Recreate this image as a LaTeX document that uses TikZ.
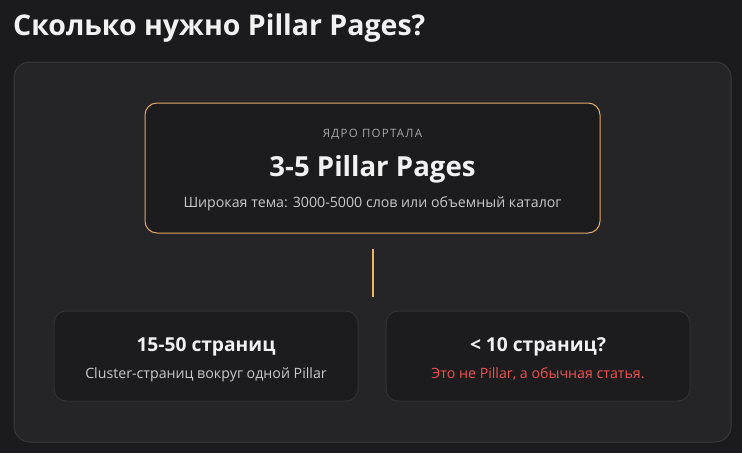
\documentclass[tikz,border=0pt]{standalone}
\usepackage{fontspec}
\setmainfont{Open Sans}
\newfontfamily\spacedfont[LetterSpace=11]{Open Sans}
\usetikzlibrary{positioning}

\definecolor{pagebg}{HTML}{1B1B1D}
\definecolor{panelbg}{HTML}{252527}
\definecolor{panelline}{HTML}{3A3A3C}
\definecolor{cardbg}{HTML}{1C1C1E}
\definecolor{cardline}{HTML}{323234}
\definecolor{accent}{HTML}{E2A862}
\definecolor{stemcol}{HTML}{F2B463}
\definecolor{txtwhite}{HTML}{F2F2F2}
\definecolor{txtgray}{HTML}{A9A9AB}
\definecolor{txtlight}{HTML}{C9C9CB}
\definecolor{txtred}{HTML}{F0504F}

\begin{document}
\begin{tikzpicture}[
  x=1pt, y=-1pt,
  panel/.style={draw=panelline, fill=panelbg, rounded corners=16pt, line width=1pt, minimum width=717pt, minimum height=380pt},
  card/.style={draw=cardline, fill=cardbg, rounded corners=12pt, line width=1pt, minimum width=304pt, minimum height=90pt},
  corecard/.style={card, draw=accent, minimum width=455pt, minimum height=130pt},
  stem/.style={stemcol, line width=2pt},
  txt/.style={anchor=base, inner sep=0pt},
  headline/.style={txt, txtwhite, font=\fontsize{19.2}{22}\selectfont\bfseries},
  subline/.style={txt, txtlight, font=\fontsize{14.2}{17}\selectfont},
]

% background
\fill[pagebg] (0,0) rectangle (742,453);
\useasboundingbox (0,0) rectangle (742,453);

\node (title) [anchor=base west, txtwhite, font=\fontsize{28.5}{32}\selectfont\bfseries, inner sep=0pt] at (13,35) {Сколько нужно Pillar Pages?};

\node (panel) [panel] at (372.5,252) {};

% core
\node (core) [corecard] at (372.5,168) {};
\node (coretag) [txt, txtgray, font=\fontsize{11.5}{13}\spacedfont] at (372.5,137) {ЯДРО ПОРТАЛА};
\node (corehead) [txt, txtwhite, font=\fontsize{27.6}{30}\selectfont\bfseries] at (372.5,176) {3-5 Pillar Pages};
\node (corenote) [subline] at (372.5,207) {Широкая тема: 3000-5000 слов или объемный каталог};

% bottom cards
\node (cluster) [card] at (206,356) {};
\node (clusterhead) [headline] at (206,351) {15-50 страниц};
\node (clusternote) [subline] at (206,378) {Cluster-страниц вокруг одной Pillar};

\node (few) [card] at (538,356) {};
\node (fewhead) [headline] at (538,351) {< 10 страниц?};
\node (fewnote) [subline, txtred] at (538,378) {Это не Pillar, а обычная статья.};

\draw[stem, shorten <=15pt, shorten >=14pt] (core.south) -- (core.south |- cluster.north);

\end{tikzpicture}
\end{document}
